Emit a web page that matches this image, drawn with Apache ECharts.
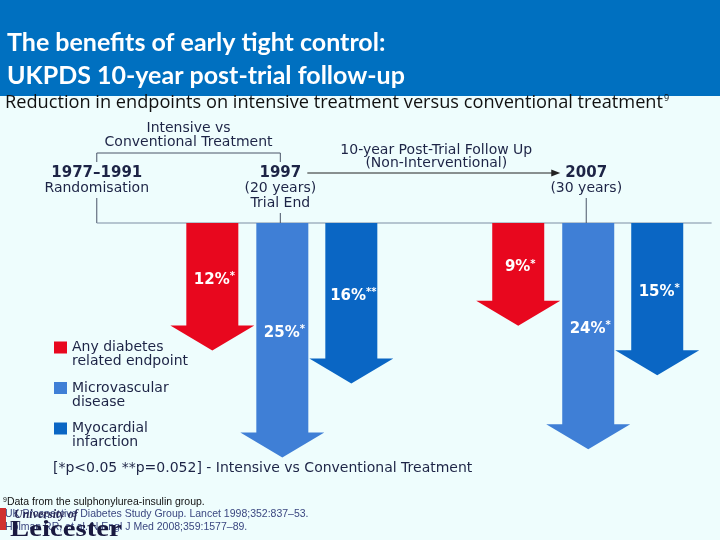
<!DOCTYPE html>
<html><head><meta charset="utf-8">
<script src="https://cdn.jsdelivr.net/npm/echarts/dist/echarts.min.js"></script>
<style>html,body{margin:0;padding:0;background:#edfcfc;}#main{width:720px;height:540px;}</style>
</head><body><div id="main"></div>
<script>
// ---- data ----
const years = [1997, 2007];
const anyDiabetes = [12, 9];
const microvascular = [25, 24];
const myocardial = [16, 15];
const anyDiabetesSig = ['*', '*'];
const microvascularSig = ['*', '*'];
const myocardialSig = ['**', '*'];
const seriesNames = ['Any diabetes\nrelated endpoint', 'Microvascular\ndisease', 'Myocardial\ninfarction'];
const milestoneYears = [1991, 1997, 2007];
const milestoneTitles = ['1977–1991', '1997', '2007'];
const milestoneNotes = [['Randomisation'], ['(20 years)', 'Trial End'], ['(30 years)']];
const spanStart = [1991, 1997];
const spanEnd = [1997, 2007];
const spanKinds = ['bracket', 'arrow'];
const spanTexts = [['Intensive vs', 'Conventional Treatment'], ['10-year Post-Trial Follow Up', '(Non-Interventional)']];

// ---- styles ----
const Y_MIN = -3.5, Y_MAX = 30;
const FUT = 'DejaVu Sans';
const NAVY = '#1d2446';
const LINE = '#4a5468';

const chart = echarts.init(document.getElementById('main'), null, {renderer: 'canvas'});

function arrowSeries(idx, values, sigs, color, offset) {
  return {
    type: 'custom', name: seriesNames[idx], coordinateSystem: 'cartesian2d',
    itemStyle: {color: color}, clip: false, z: 3,
    data: years.map((y, i) => [y, values[i], sigs[i]]),
    encode: {x: 0, y: 1},
    renderItem: function (params, api) {
      const base = api.coord([api.value(0), Y_MIN]);
      const tip = api.coord([api.value(0), api.value(1)]);
      const cx = base[0] + offset;
      const half = 26, headHalf = 42, headH = 25;
      const top = base[1], tipY = tip[1], neck = tipY - headH;
      const v = values[params.dataIndex], s = sigs[params.dataIndex];
      return {
        type: 'group', children: [
          {type: 'polygon', shape: {points: [[cx - half, top], [cx + half, top], [cx + half, neck], [cx + headHalf, neck], [cx, tipY], [cx - headHalf, neck], [cx - half, neck]]},
            style: {fill: api.visual('color')}},
          {type: 'text', style: {text: '{v|' + v + '%}{s|' + s + '}', x: cx + 2, y: (top + neck) / 2 + 5, align: 'center', verticalAlign: 'middle',
            rich: {v: {fill: '#fff', font: 'bold 15px ' + FUT, verticalAlign: 'bottom'}, s: {fill: '#fff', font: 'bold 10px ' + FUT, verticalAlign: 'top', padding: [0, 0, 6, 0]}}}}
        ]
      };
    }
  };
}

const timelineSeries = {
  type: 'custom', coordinateSystem: 'cartesian2d', clip: false, silent: true, z: 2,
  data: milestoneYears.map((y, i) => [y, Y_MIN, i]),
  encode: {x: 0, y: 1},
  renderItem: function (params, api) {
    const i = params.dataIndex;
    const p = api.coord([api.value(0), Y_MIN]);
    const children = [];
    children.push({type: 'text', style: {text: milestoneTitles[i], x: p[0], y: p[1] - 50, align: 'center', verticalAlign: 'middle', fill: NAVY, font: 'bold 15px ' + FUT}});
    const notes = milestoneNotes[i];
    notes.forEach((n, k) => {
      children.push({type: 'text', style: {text: n, x: p[0], y: p[1] - 35 + k * 15, align: 'center', verticalAlign: 'middle', fill: NAVY, font: '14px ' + FUT}});
    });
    const lastY = p[1] - 35 + (notes.length - 1) * 15;
    children.push({type: 'line', shape: {x1: p[0], y1: lastY + 10, x2: p[0], y2: p[1]}, style: {stroke: LINE, lineWidth: 1}});
    if (i === 0) {
      const cs = params.coordSys;
      children.push({type: 'line', shape: {x1: p[0], y1: p[1], x2: cs.x + cs.width + 3, y2: p[1]}, style: {stroke: '#7d8ea4', lineWidth: 1.2}});
    }
    return {type: 'group', children: children};
  }
};

const spanSeries = {
  type: 'custom', coordinateSystem: 'cartesian2d', clip: false, silent: true, z: 2,
  data: spanStart.map((s, i) => [s, Y_MIN, spanEnd[i]]),
  encode: {x: 0, y: 1},
  renderItem: function (params, api) {
    const i = params.dataIndex;
    const a = api.coord([spanStart[i], Y_MIN]);
    const b = api.coord([spanEnd[i], Y_MIN]);
    const mid = (a[0] + b[0]) / 2;
    const children = [];
    if (spanKinds[i] === 'bracket') {
      const y = a[1] - 70;
      children.push({type: 'polyline', shape: {points: [[a[0], y + 9], [a[0], y], [b[0], y], [b[0], y + 9]]}, style: {stroke: LINE, lineWidth: 1, fill: null}});
      spanTexts[i].forEach((t, k) => {
        children.push({type: 'text', style: {text: t, x: mid, y: y - 25 + k * 14, align: 'center', verticalAlign: 'middle', fill: NAVY, font: '14px ' + FUT}});
      });
    } else {
      const y = a[1] - 50;
      const x1 = a[0] + 27, x2 = b[0] - 26;
      children.push({type: 'line', shape: {x1: x1, y1: y, x2: x2 - 6, y2: y}, style: {stroke: '#222', lineWidth: 1}});
      children.push({type: 'polygon', shape: {points: [[x2 - 9, y - 3.5], [x2, y], [x2 - 9, y + 3.5]]}, style: {fill: '#222'}});
      spanTexts[i].forEach((t, k) => {
        children.push({type: 'text', style: {text: t, x: mid + 3, y: y - 23 + k * 13, align: 'center', verticalAlign: 'middle', fill: NAVY, font: '14px ' + FUT}});
      });
    }
    return {type: 'group', children: children};
  }
};

const option = {
  backgroundColor: '#eefdfd',
  animation: false,
  title: {
    text: 'The benefits of early tight control:\nUKPDS 10-year post-trial follow-up',
    left: 7, top: 26, padding: 0,
    textStyle: {color: '#ffffff', fontFamily: 'Lato', fontSize: 25, fontWeight: 'bold', lineHeight: 33}
  },
  legend: {
    orient: 'vertical', left: 54, top: 326.5, padding: 0, itemGap: -1.5,
    itemWidth: 13, itemHeight: 12, icon: 'rect', selectedMode: false,
    data: seriesNames,
    formatter: function (name) { return ' \n' + name; },
    textStyle: {fontFamily: FUT, fontSize: 14, color: NAVY, lineHeight: 14}
  },
  grid: {left: 5, right: 11.4, top: 223, bottom: 41.3, containLabel: false},
  xAxis: {type: 'value', min: 1988, max: 2011, show: false},
  yAxis: {type: 'value', min: Y_MIN, max: Y_MAX, inverse: true, show: false},
  graphic: [
    {type: 'rect', left: 0, top: 0, shape: {width: 720, height: 96}, style: {fill: '#0070c0'}, z: -1},
    {type: 'text', left: 5, top: 94, style: {text: 'Reduction in endpoints on intensive treatment versus conventional treatment{s|9}',
      font: '18.2px "Open Sans"', fill: '#111', rich: {s: {font: '9px "Open Sans"', fill: '#111', verticalAlign: 'top', padding: [0, 0, 9, 1]}}}},
    {type: 'text', left: 53, top: 461, style: {text: '[*p<0.05 **p=0.052] - Intensive vs Conventional Treatment', font: '14px ' + FUT, fill: NAVY}},
    {type: 'text', left: 3, top: 497, style: {text: '{s|9}Data from the sulphonylurea-insulin group.', font: '10.5px "Liberation Sans"', fill: '#111', rich: {s: {font: '7px "Liberation Sans"', fill: '#111', verticalAlign: 'top'}}}},
    {type: 'text', left: 5, top: 509, style: {text: 'UK Prospective Diabetes Study Group. Lancet 1998;352:837–53.', font: '10.5px "Liberation Sans"', fill: '#3b4780'}},
    {type: 'text', left: 5, top: 522, style: {text: 'Holman RR, et al. N Engl J Med 2008;359:1577–89.', font: '10.5px "Liberation Sans"', fill: '#3b4780'}},
    {type: 'rect', left: 0, top: 508, shape: {width: 6, height: 22}, style: {fill: '#d03030'}},
    {type: 'text', left: 14, top: 509, style: {text: 'University of', font: 'italic bold 12px "Liberation Serif"', fill: '#2a2a55'}},
    {type: 'text', x: 10, y: 519, scaleX: 1.25, style: {text: 'Leicester', font: 'bold 23px "Liberation Serif"', fill: '#1a1a40'}}
  ],
  series: [
    spanSeries,
    timelineSeries,
    arrowSeries(0, anyDiabetes, anyDiabetesSig, '#e8071e', -68),
    arrowSeries(1, microvascular, microvascularSig, '#3f7fd6', 2),
    arrowSeries(2, myocardial, myocardialSig, '#0a66c4', 71)
  ]
};
chart.setOption(option);
</script></body></html>
